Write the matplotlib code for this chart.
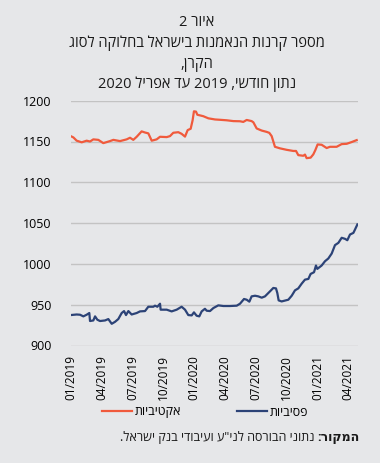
import re
import matplotlib
matplotlib.use("Agg")
import matplotlib.pyplot as plt

# ---------------------------------------------------------------------------
# Data, x = months since 01/2019
# ---------------------------------------------------------------------------
red_months = [0.0, 0.26, 0.58, 1.07, 1.55, 1.88, 2.20, 2.69, 3.17, 3.82,
              4.15, 4.80, 5.44, 5.77, 6.09, 6.42, 6.90, 7.23, 7.55, 7.88,
              8.36, 8.69, 9.34, 9.66, 9.98, 10.47, 10.79, 11.12, 11.38, 11.67,
              11.86, 11.99, 12.19, 12.32, 12.90, 13.39, 14.04, 14.52, 15.17, 15.82,
              16.47, 16.79, 17.12, 17.60, 17.77, 18.09, 18.58, 19.06, 19.32, 19.55,
              19.87, 20.36, 21.01, 21.66, 21.92, 22.14, 22.63, 22.79, 22.95, 23.34,
              23.60, 23.80, 24.02, 24.41, 24.90, 25.22, 25.87, 26.36, 26.85, 27.33,
              27.82]
active = [1156.6, 1155, 1151, 1149, 1151, 1150, 1152.6, 1152, 1148, 1150.5,
          1152, 1150.5, 1152.6, 1154.6, 1152, 1155.8, 1162.4, 1161, 1160, 1151,
          1152.6, 1155.8, 1155.4, 1156.6, 1160.7, 1161.4, 1159.4, 1156, 1164, 1165.6,
          1176, 1187, 1186.6, 1182.8, 1181, 1178.4, 1177, 1176.6, 1176, 1175,
          1174.8, 1174, 1176.4, 1175, 1173.5, 1166, 1163.4, 1161.8, 1160.6, 1156.6,
          1143.5, 1141.6, 1139.8, 1138.4, 1138.4, 1133.3, 1132.5, 1134, 1129.6, 1130.2,
          1134.2, 1139.5, 1146.4, 1146, 1142, 1143.5, 1143.5, 1146.8, 1147.2, 1149.3,
          1151.7]

blue_months = [0.0, 0.58, 0.91, 1.23, 1.55, 1.81, 1.88, 2.20, 2.37, 2.59,
               2.85, 3.34, 3.66, 3.99, 4.31, 4.63, 4.96, 5.19, 5.38, 5.61,
               5.93, 6.42, 6.74, 7.23, 7.55, 8.04, 8.20, 8.43, 8.69, 8.75,
               9.34, 9.82, 10.31, 10.79, 11.12, 11.44, 11.77, 11.99, 12.25, 12.51,
               12.74, 13.06, 13.23, 13.55, 13.88, 14.36, 14.85, 15.50, 16.15, 16.47,
               16.86, 17.12, 17.38, 17.60, 17.93, 18.25, 18.58, 18.90, 19.39, 19.71,
               19.97, 20.10, 20.23, 20.52, 21.17, 21.50, 21.82, 22.14, 22.47, 22.79,
               23.12, 23.34, 23.67, 23.86, 23.99, 24.41, 24.74, 25.06, 25.39, 25.71,
               26.04, 26.36, 26.69, 26.91, 27.17, 27.50, 27.66, 27.89]
passive = [937.3, 938, 937.7, 935.7, 937.7, 939.8, 930, 930.7, 935.7, 931.6,
           930, 930.7, 932.4, 926.6, 929, 932.4, 939.8, 942.2, 937.3, 942.2,
           938, 939.8, 941.8, 942.2, 947.5, 947.5, 948.8, 947.5, 951.2, 943.9,
           943.9, 941.8, 943.9, 947.5, 943.9, 937.3, 936.9, 940.6, 936.5, 935.7,
           941.8, 945, 942.6, 942.2, 945.9, 949.2, 948.4, 948.4, 948.8, 951.2,
           957, 956.1, 953.7, 960.2, 961, 960.2, 958.6, 960.2, 966.4, 970.5,
           970, 964.3, 955.3, 954, 956.1, 961, 967.6, 970, 975.8, 980.7,
           981.6, 987.7, 989.8, 998, 993.9, 998, 1003.3, 1006.6, 1012.7, 1023,
           1025.8, 1032, 1030.7, 1029, 1036, 1038, 1042.2, 1048.4]

tick_months = [0, 3, 6, 9, 12, 15, 18, 21, 24, 27]
tick_labels = ["01/2019", "04/2019", "07/2019", "10/2019", "01/2020",
               "04/2020", "07/2020", "10/2020", "01/2021", "04/2021"]
y_ticks = [900, 950, 1000, 1050, 1100, 1150, 1200]

title_lines = ["איור 2", "מספר קרנות הנאמנות בישראל בחלוקה לסוג", "הקרן,",
               "נתון חודשי, 2019 עד אפריל 2020"]
label_active = "אקטיביות"
label_passive = "פסיביות"
source_bold = "המקור:"
source_text = "נתוני הבורסה לני\"ע ועיבודי בנק ישראל."


def heb(s):
    # matplotlib has no bidi: flip to visual order, keep digit runs readable
    rev = s[::-1]
    return re.sub(r"\d+", lambda m: m.group(0)[::-1], rev)


plt.rcParams["font.family"] = ["Open Sans", "DejaVu Sans"]

BG = "#e6e7e9"
RED = "#f05a3c"
BLUE = "#2c4377"
W, H = 380, 463

fig = plt.figure(figsize=(W / 100, H / 100), dpi=100, facecolor=BG)
ax = fig.add_axes([70.7 / W, 1 - 345.5 / H, 286.8 / W, 244.8 / H], facecolor=BG)

ax.plot(red_months, active, color=RED, lw=1.6, label=heb(label_active))
ax.plot(blue_months, passive, color=BLUE, lw=1.6, label=heb(label_passive))

ax.set_xlim(0, 27.9)
ax.set_ylim(900, 1200)
ax.set_yticks(y_ticks)
ax.set_xticks(tick_months)
ax.set_xticklabels(tick_labels, rotation=90, fontsize=8.5)
ax.tick_params(axis="y", labelsize=9, length=0, pad=14)
ax.tick_params(axis="x", length=0, pad=7)
ax.grid(axis="y", color="#c3c3c3", lw=1)
ax.set_axisbelow(True)
for sp in ax.spines.values():
    sp.set_visible(False)

# title block
for i, line in enumerate(title_lines):
    fig.text(197 / W, 1 - (23 + 20.5 * i) / H, heb(line), ha="center",
             va="center", fontsize=10.5, color="#1a1a1a")

fig.legend(loc="center", bbox_to_anchor=(205 / W, 1 - 412 / H), ncol=2,
           frameon=False, fontsize=9, handlelength=2.4, handletextpad=0.25,
           columnspacing=4.4)

# source line: bold lead-in on the right, plain text to its left
renderer = fig.canvas.get_renderer()
tb = fig.text(360 / W, 1 - 437 / H, heb(source_bold), ha="right", va="center",
              fontsize=9, fontweight="bold", color="#1a1a1a")
bb = tb.get_window_extent(renderer)
fig.text((bb.x0 - 3) / W, 1 - 437 / H, heb(source_text), ha="right",
         va="center", fontsize=9, color="#1a1a1a")

fig.savefig("out.png", dpi=100, facecolor=BG)
